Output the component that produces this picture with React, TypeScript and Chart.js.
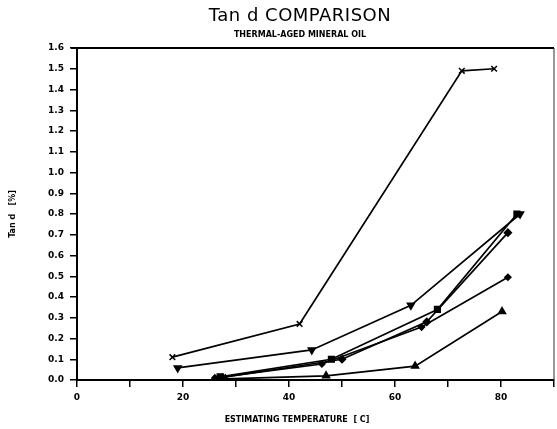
import React, { useEffect, useRef } from "react";
import { Chart, registerables } from "chart.js";

Chart.register(...registerables);

const TITLE = "Tan d COMPARISON";
const SUBTITLE = "THERMAL-AGED MINERAL OIL";
const X_TITLE = "ESTIMATING TEMPERATURE  [ C]";
const Y_TITLE = "Tan d   [%]";

const crossX = [18, 42, 72.6, 78.7];
const crossY = [0.11, 0.27, 1.49, 1.5];
const downTriX = [19, 44.3, 63, 83.6];
const downTriY = [0.058, 0.145, 0.36, 0.8];
const squareX = [27, 48, 68, 83];
const squareY = [0.015, 0.1, 0.34, 0.8];
const diamondX = [27.5, 50, 66, 81.3];
const diamondY = [0.012, 0.1, 0.28, 0.71];
const plusX = [26, 46.2, 65, 81.3];
const plusY = [0.01, 0.077, 0.255, 0.495];
const triUpX = [28, 47, 63.8, 80.2];
const triUpY = [0.005, 0.02, 0.067, 0.33];

const toPts = (xs: number[], ys: number[]) => xs.map((x, i) => ({ x, y: ys[i] }));

const decorPlugin = {
  id: "decor",
  afterDraw(chart: any) {
    const { ctx, chartArea } = chart;
    ctx.save();
    ctx.strokeStyle = "#000";
    ctx.lineWidth = 2;
    ctx.beginPath();
    ctx.moveTo(chartArea.left - 6, chartArea.top);
    ctx.lineTo(chartArea.right, chartArea.top);
    ctx.stroke();
    ctx.lineWidth = 1;
    ctx.strokeStyle = "#333";
    ctx.beginPath();
    ctx.moveTo(chartArea.right, chartArea.top);
    ctx.lineTo(chartArea.right, chartArea.bottom);
    ctx.stroke();

    ctx.fillStyle = "#000";
    ctx.textAlign = "center";
    ctx.textBaseline = "middle";
    ctx.font = '18px "DejaVu Sans"';
    (ctx as any).letterSpacing = "0.5px";
    ctx.fillText(TITLE, 300, 16);
    (ctx as any).letterSpacing = "0px";
    ctx.font = 'bold 8px "DejaVu Sans"';
    ctx.fillText(SUBTITLE, 300, 35);
    ctx.fillText(X_TITLE, 297, 420);
    ctx.restore();
  },
};

export default function App() {
  const ref = useRef<HTMLCanvasElement>(null);
  useEffect(() => {
    document.body.style.margin = "0";
    const mk = (xs: number[], ys: number[], style: any, radius: number, rotation = 0) => ({
      data: toPts(xs, ys),
      showLine: true,
      borderColor: "#000",
      backgroundColor: "#000",
      borderWidth: 1.7,
      pointStyle: style,
      pointRadius: radius,
      pointRotation: rotation,
      pointBorderWidth: 1.5,
      pointBorderColor: "#000",
      pointBackgroundColor: "#000",
    });
    const chart = new Chart(ref.current!, {
      type: "scatter",
      data: {
        datasets: [
          mk(crossX, crossY, "crossRot", 4),
          mk(downTriX, downTriY, "triangle", 4, 180),
          mk(squareX, squareY, "rect", 4),
          mk(diamondX, diamondY, "rectRot", 3.5),
          mk(plusX, plusY, "rectRot", 3),
          mk(triUpX, triUpY, "triangle", 4),
        ] as any,
      },
      options: {
        animation: false,
        responsive: false,
        maintainAspectRatio: false,
        layout: { padding: { top: 48, right: 6, left: 0, bottom: 0 } },
        plugins: { legend: { display: false }, tooltip: { enabled: false } },
        scales: {
          x: {
            type: "linear",
            min: 0,
            max: 90,
            afterFit: (s: any) => {
              s.height = 49;
            },
            ticks: {
              stepSize: 10,
              padding: 5,
              color: "#000",
              font: { family: "DejaVu Sans", weight: "bold", size: 9 },
              maxRotation: 0,
              autoSkip: false,
              callback: (v: any) => (Number(v) % 20 === 0 ? String(v) : ""),
            },
            grid: { drawOnChartArea: false, drawTicks: true, tickLength: 7, color: "#000", lineWidth: 1.5 },
            border: { display: true, color: "#000", width: 2 },
          },
          y: {
            type: "linear",
            min: 0,
            max: 1.6,
            afterFit: (s: any) => {
              s.width = 77;
            },
            ticks: {
              stepSize: 0.1,
              padding: 6,
              color: "#000",
              font: { family: "DejaVu Sans", weight: "bold", size: 9 },
              autoSkip: false,
              callback: (v: any) => Number(v).toFixed(1),
            },
            title: {
              display: true,
              text: Y_TITLE,
              color: "#000",
              font: { family: "DejaVu Sans", weight: "bold", size: 8 },
              padding: { top: 8, bottom: 0 },
            },
            grid: { drawOnChartArea: false, drawTicks: true, tickLength: 7, color: "#000", lineWidth: 1.5 },
            border: { display: true, color: "#000", width: 2 },
          },
        },
      },
      plugins: [decorPlugin],
    });
    return () => chart.destroy();
  }, []);
  return (
    <div style={{ width: 557, height: 429, overflow: "hidden" }}>
      <canvas ref={ref} width={560} height={429} style={{ display: "block" }} />
    </div>
  );
}
